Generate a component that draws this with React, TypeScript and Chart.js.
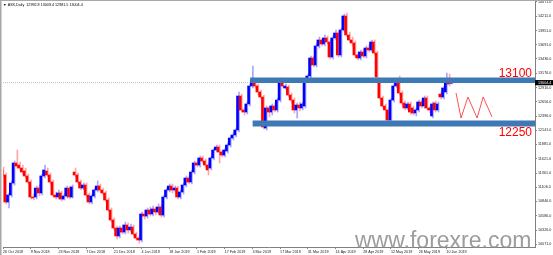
import React, { useEffect, useRef } from 'react';
import { Chart, registerables } from 'chart.js';
Chart.register(...registerables);

const dateLabels = ['26 Oct 2018', '9 Nov 2018', '23 Nov 2018', '7 Dec 2018', '21 Dec 2018', '4 Jan 2019', '18 Jan 2019', '1 Feb 2019', '17 Feb 2019', '3 Mar 2019', '17 Mar 2019', '31 Mar 2019', '14 Apr 2019', '28 Apr 2019', '12 May 2019', '26 May 2019', '10 Jun 2019'];
const yTicks = [14471, 14211, 13951, 13691, 13436, 13176, 12916, 12656, 12396, 12141, 11881, 11621, 11361, 11106, 10846, 10586, 10326, 10071];

const opens = [
  11417, 11326, 10835, 10962, 11180, 11544, 11507, 11453, 11399, 11308,
  11199, 10926, 10926, 11089, 10999, 11308, 11399, 11326, 11199, 10962,
  10926, 10999, 10889, 10944, 11089, 10926, 11380, 11326, 11199, 11089,
  11144, 10962, 10835, 10944, 11053, 11126, 11053, 10999, 10871, 10689,
  10508, 10362, 10217, 10362, 10289, 10417, 10326, 10380, 10253, 10180,
  10144, 10617, 10580, 10689, 10617, 10708, 10653, 10744, 10598, 10926,
  11053, 11126, 11053, 11089, 10926, 11017, 11144, 11271, 11199, 11380,
  11544, 11507, 11635, 11580, 11507, 11453, 11635, 11780, 11835, 11744,
  11689, 11762, 11871, 11998, 12053, 12144, 12762, 12508, 12471, 12617,
  12944, 13035, 12944, 12835, 12744, 12180, 12544, 12471, 12580, 12508,
  12689, 13017, 12908, 12926, 12780, 12689, 12508, 12598, 12544, 12580,
  13053, 13126, 13453, 13326, 13671, 13780, 13708, 13817, 13744, 13471,
  13817, 13907, 13508, 13962, 14217, 13871, 13780, 13726, 13508, 13453,
  13562, 13489, 13635, 13598, 13744, 13544, 13053, 12726, 12580, 12508,
  12326, 12689, 12944, 13053, 12817, 12635, 12544, 12617, 12544, 12453,
  12508, 12653, 12580, 12726, 12544, 12399, 12635, 12508, 12798, 12744,
  12835, 13071, 12992.8,
];
const highs = [
  11471, 11362, 10999, 11217, 11580, 11780, 11562, 11507, 11453, 11344,
  11235, 10980, 11126, 11144, 11344, 11507, 11453, 11362, 11235, 11017,
  11053, 11035, 10980, 11126, 11126, 11144, 11453, 11362, 11235, 11180,
  11180, 10999, 10980, 11089, 11217, 11162, 11089, 11035, 10908, 10726,
  10544, 10399, 10399, 10417, 10471, 10453, 10435, 10417, 10289, 10217,
  10653, 10689, 10726, 10744, 10762, 10744, 10799, 10780, 10962, 11089,
  11162, 11162, 11126, 11126, 11053, 11180, 11308, 11308, 11417, 11580,
  11580, 11671, 11671, 11617, 11544, 11671, 11817, 11871, 11871, 11780,
  11817, 11908, 12035, 12089, 12180, 12835, 12798, 12544, 12653, 12980,
  13308, 13071, 12980, 12871, 12780, 12580, 12580, 12617, 12635, 12726,
  13089, 13053, 12980, 12962, 12817, 12726, 12635, 12653, 12653, 13089,
  13162, 13489, 13489, 13708, 13835, 13817, 13871, 13853, 13780, 13853,
  13962, 13944, 13998, 14253, 14271, 13926, 13835, 13762, 13562, 13598,
  13617, 13671, 13689, 13780, 13780, 13580, 13089, 12762, 12617, 12544,
  12726, 12980, 13089, 13126, 12853, 12671, 12653, 12653, 12580, 12544,
  12689, 12689, 12762, 12762, 12580, 12653, 12671, 12653, 12835, 12944,
  13180, 13162, 13009.4,
];
const lows = [
  11290, 10799, 10726, 10926, 11144, 11453, 11399, 11344, 11271, 11162,
  10889, 10871, 10889, 10944, 10962, 11271, 11290, 11162, 10926, 10889,
  10889, 10853, 10871, 10908, 10889, 10908, 11290, 11162, 11053, 11053,
  10926, 10799, 10799, 10908, 11017, 11017, 10962, 10835, 10653, 10471,
  10326, 10162, 10180, 10253, 10253, 10271, 10289, 10217, 10144, 10089,
  10108, 10526, 10544, 10580, 10580, 10598, 10617, 10562, 10562, 10889,
  11017, 10999, 11017, 10889, 10889, 10980, 11108, 11162, 11162, 11344,
  11471, 11471, 11544, 11471, 11326, 11417, 11598, 11744, 11544, 11653,
  11653, 11726, 11835, 11962, 12017, 12108, 12471, 12417, 12435, 12580,
  12908, 12908, 12780, 12708, 12162, 12144, 12380, 12417, 12471, 12471,
  12653, 12908, 12871, 12744, 12635, 12453, 12362, 12489, 12508, 12544,
  13017, 13089, 13289, 13289, 13635, 13671, 13671, 13708, 13435, 13435,
  13780, 13471, 13471, 13926, 13835, 13744, 13671, 13471, 13417, 13417,
  13453, 13453, 13562, 13562, 13508, 13071, 12689, 12544, 12326, 12271,
  12289, 12653, 12908, 12780, 12598, 12508, 12508, 12435, 12417, 12399,
  12471, 12544, 12544, 12508, 12453, 12362, 12471, 12471, 12708, 12708,
  12798, 12944, 12981.5,
];
const closes = [
  11326, 10835, 10962, 11180, 11544, 11489, 11453, 11380, 11308, 11199,
  10926, 10908, 11089, 10999, 11308, 11417, 11326, 11199, 10962, 10926,
  10999, 10889, 10944, 11089, 10926, 11108, 11326, 11199, 11089, 11144,
  10962, 10835, 10944, 11053, 11126, 11053, 10999, 10871, 10689, 10508,
  10362, 10217, 10362, 10289, 10417, 10326, 10380, 10253, 10180, 10144,
  10617, 10580, 10689, 10617, 10708, 10653, 10744, 10598, 10926, 11053,
  11126, 11053, 11089, 10926, 11017, 11144, 11271, 11199, 11380, 11544,
  11507, 11635, 11580, 11507, 11417, 11635, 11780, 11835, 11744, 11689,
  11780, 11871, 11998, 12053, 12144, 12762, 12508, 12471, 12617, 12944,
  13053, 12944, 12835, 12744, 12198, 12544, 12471, 12580, 12508, 12689,
  13017, 12944, 12944, 12780, 12689, 12508, 12598, 12544, 12617, 13053,
  13126, 13453, 13326, 13671, 13780, 13708, 13817, 13744, 13471, 13817,
  13907, 13508, 13962, 14217, 13871, 13780, 13726, 13508, 13453, 13562,
  13489, 13635, 13598, 13744, 13544, 13108, 12726, 12580, 12508, 12326,
  12689, 12944, 13053, 12817, 12635, 12544, 12617, 12471, 12453, 12508,
  12653, 12580, 12726, 12544, 12508, 12617, 12508, 12617, 12744, 12908,
  13017, 12980, 13004.4,
];

const zigzagX = [163.5, 165.3, 167.8, 171.1, 173.3, 176.5];
const zigzagY = [12817, 12362, 12744, 12362, 12744, 12380];
const resistanceLevel = 13048;
const supportLevel = 12262;
const resistanceLabel = '13100';
const supportLabel = '12250';
const resistanceStart = 89.2;
const supportStart = 90.1;
const xMax = 192;
const yMin = 10017;
const yMax = 14489;
const header = '\u25BC ASX,Daily  12992.8 13009.4 12981.5 13004.4';
const watermark = 'www.forexre.com';

const BLUE = '#0000ff';
const RED = '#ff0000';
const BAND = '#3d79b4';
const FONT = '"Liberation Sans", Arial, sans-serif';

export default function App() {
  const ref = useRef<HTMLCanvasElement | null>(null);
  useEffect(() => {
    document.body.style.margin = '0';
    const canvas = ref.current;
    if (!canvas) return;
    Chart.defaults.font.family = FONT;
    const last = closes.length - 1;
    const lastClose = closes[last];
    const up = (i: number) => closes[i] >= opens[i];

    const annot = {
      id: 'annot',
      beforeDraw(chart: any) {
        const { ctx } = chart;
        ctx.save();
        ctx.fillStyle = '#ffffff';
        ctx.fillRect(0, 0, chart.width, chart.height);
        ctx.restore();
      },
      afterDraw(chart: any) {
        const { ctx, chartArea } = chart;
        const x = chart.scales.x;
        const y = chart.scales.y;
        ctx.save();
        // frame
        ctx.fillStyle = '#a8a8a8';
        ctx.fillRect(0, 0, chart.width, 1);
        ctx.fillRect(0, 0, 1.5, chart.height);
        // header
        ctx.font = `3.7px ${FONT}`;
        ctx.fillStyle = '#000';
        ctx.textBaseline = 'middle';
        ctx.textAlign = 'left';
        ctx.fillText(header, 3, 4.5);
        // zone labels
        ctx.font = `12px ${FONT}`;
        ctx.fillStyle = RED;
        ctx.textAlign = 'right';
        ctx.textBaseline = 'alphabetic';
        ctx.fillText(resistanceLabel, chartArea.right - 3, y.getPixelForValue(13100));
        ctx.fillText(supportLabel, chartArea.right - 3, y.getPixelForValue(12250) + 12);
        // price box
        const py = y.getPixelForValue(lastClose);
        ctx.fillStyle = '#000';
        ctx.fillRect(chartArea.right, py - 2.6, chart.width - chartArea.right, 5.2);
        ctx.fillStyle = '#fff';
        ctx.font = `3.7px ${FONT}`;
        ctx.textAlign = 'left';
        ctx.textBaseline = 'middle';
        ctx.fillText(lastClose.toFixed(1), chartArea.right + 3, py);
        // watermark
        ctx.font = `23px ${FONT}`;
        ctx.fillStyle = 'rgba(140,140,140,0.85)';
        ctx.textAlign = 'left';
        ctx.textBaseline = 'alphabetic';
        ctx.fillText(watermark, 355, 248);
        ctx.restore();
        void x;
      },
    };

    const chart = new Chart(canvas, {
      type: 'bar',
      data: {
        datasets: [
          {
            type: 'line',
            data: [{ x: 0, y: lastClose }, { x: xMax, y: lastClose }],
            borderColor: '#bdbdbd',
            borderWidth: 1,
            borderDash: [1, 1],
            pointRadius: 0,
            order: 5,
          } as any,
          {
            type: 'bar',
            data: opens.map((_, i) => ({ x: i, y: [lows[i], highs[i]] })),
            backgroundColor: (c: any) => (up(c.dataIndex) ? 'rgba(60,60,255,0.45)' : 'rgba(255,60,60,0.45)'),
            barThickness: 1,
            order: 4,
          } as any,
          {
            type: 'bar',
            data: opens.map((o, i) => ({ x: i, y: [o, closes[i]] })),
            backgroundColor: (c: any) => (up(c.dataIndex) ? BLUE : RED),
            barThickness: 2,
            order: 3,
          } as any,
          {
            type: 'line',
            data: zigzagX.map((xv, i) => ({ x: xv, y: zigzagY[i] })),
            borderColor: 'rgba(255,40,40,0.8)',
            borderWidth: 1,
            pointRadius: 0,
            tension: 0,
            order: 2,
          } as any,
          {
            type: 'line',
            data: [{ x: resistanceStart, y: resistanceLevel }, { x: xMax, y: resistanceLevel }],
            borderColor: BAND,
            borderWidth: 5.5,
            borderCapStyle: 'butt',
            pointRadius: 0,
            order: 1,
          } as any,
          {
            type: 'line',
            data: [{ x: supportStart, y: supportLevel }, { x: xMax, y: supportLevel }],
            borderColor: BAND,
            borderWidth: 6,
            borderCapStyle: 'butt',
            pointRadius: 0,
            order: 1,
          } as any,
        ],
      },
      options: {
        animation: false,
        responsive: false,
        devicePixelRatio: 1,
        layout: { padding: { left: 3, top: 1, right: 0, bottom: 0 } },
        plugins: { legend: { display: false }, tooltip: { enabled: false } },
        scales: {
          x: {
            type: 'linear',
            min: 0,
            max: xMax,
            bounds: 'data',
            offset: false,
            afterBuildTicks: (s: any) => {
              s.ticks = dateLabels.map((_, k) => ({ value: k * 10 }));
            },
            afterFit: (s: any) => {
              s.height = 8;
              s.paddingLeft = 0;
              s.paddingRight = 0;
            },
            ticks: {
              autoSkip: false,
              maxRotation: 0,
              align: 'start',
              padding: 0.5,
              font: { size: 3.7 },
              color: '#222',
              callback: (v: any) => dateLabels[Math.round(Number(v) / 10)] ?? '',
            },
            grid: { display: true, offset: false, drawOnChartArea: false, drawTicks: true, tickLength: 2, color: '#888' },
            border: { display: true, color: '#808080' },
          },
          y: {
            type: 'linear',
            position: 'right',
            min: yMin,
            max: yMax,
            bounds: 'data',
            beginAtZero: false,
            afterBuildTicks: (s: any) => {
              s.ticks = yTicks.map((v) => ({ value: v }));
            },
            afterFit: (s: any) => {
              s.width = 18;
              s.paddingTop = 0;
              s.paddingBottom = 0;
            },
            ticks: {
              autoSkip: false,
              padding: 1,
              font: { size: 3.7 },
              color: '#222',
              callback: (v: any) => Number(v).toFixed(1),
            },
            grid: { display: true, drawOnChartArea: false, drawTicks: true, tickLength: 2, color: '#888' },
            border: { display: true, color: '#808080' },
          },
        },
      } as any,
      plugins: [annot],
    });
    return () => chart.destroy();
  }, []);

  return (
    <div style={{ width: 553, height: 255, position: 'relative' }}>
      <canvas ref={ref} width={553} height={255} style={{ display: 'block', width: 553, height: 255 }} />
    </div>
  );
}
